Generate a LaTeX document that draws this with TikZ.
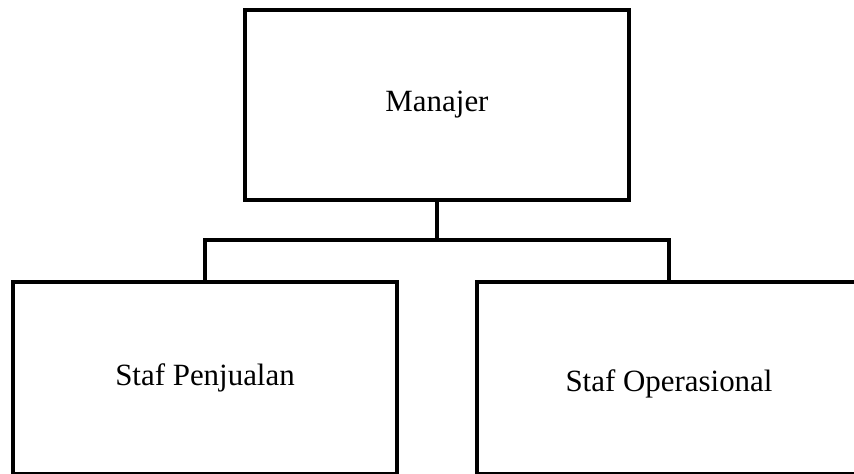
\documentclass[tikz,border=0pt]{standalone}
\usepackage{fontspec}
\setmainfont{Liberation Serif}

\begin{document}
\begin{tikzpicture}[x=0.02cm, y=-0.02cm, line width=0.08cm,
    box/.style={draw, rectangle, minimum width=7.68cm, minimum height=3.84cm,
      font=\fontsize{17.6}{20}\selectfont}]
      \clip (0, 0) rectangle (854, 473);

      \node[box, minimum height=3.8cm] (manajer) at (437, 105) {Manajer};
      \node[box] (penjualan) at (205, 378) {Staf Penjualan};
      \node[box] (operasional) at (669, 378) {};
      \node[font=\fontsize{17.6}{20}\selectfont] (opslabel) at (669, 384) {Staf Operasional};

      \coordinate (fork) at (437, 240);
      \draw (manajer.south) -- (fork);
      \draw (penjualan.north) |- (fork) -| (operasional.north);
    \end{tikzpicture}
\end{document}
